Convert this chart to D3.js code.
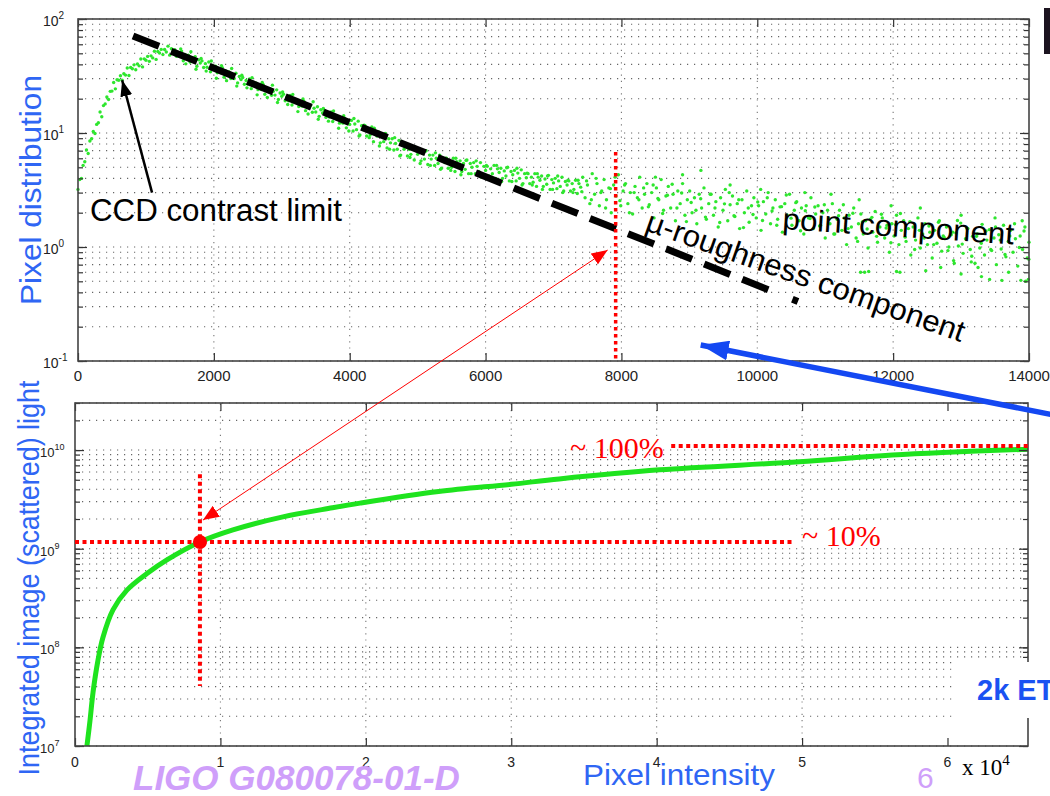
<!DOCTYPE html>
<html>
<head>
<meta charset="utf-8">
<script src="https://cdnjs.cloudflare.com/ajax/libs/d3/7.8.5/d3.min.js"></script>
<style>
  body { margin: 0; background: #fff; }
  svg { display: block; font-family: Arial, "Liberation Sans", sans-serif; }
</style>
</head>
<body>
<svg id="grafico" width="1050" height="796"></svg>
<script>
// ---------------- dados ----------------

// distribuição de pixels (gráfico superior): parte densa, 0 a 7400
const faixaDensa = [
  [0,3.2],[25,3.9],[50,4.0],[75,5.2],[100,5.6],[125,7.1],[150,6.6],[175,8.5],[200,8.9],[225,10.3],
  [250,9.9],[275,11.9],[300,12.3],[325,15.3],[350,13.9],[375,17.4],[400,18.0],[425,20.7],[450,19.7],[475,23.2],
  [500,23.3],[525,27.7],[550,24.4],[575,29.3],[600,29.0],[625,31.8],[650,29.1],[675,33.1],[700,32.2],[725,37.2],
  [750,31.9],[775,37.6],[800,36.6],[825,39.6],[850,35.9],[875,40.3],[900,38.8],[925,44.6],[950,38.0],[975,44.7],
  [1000,43.5],[1025,47.0],[1050,42.5],[1075,47.5],[1100,45.6],[1125,52.1],[1150,44.2],[1175,51.9],[1200,50.3],[1225,54.1],
  [1250,48.7],[1275,54.0],[1300,51.4],[1325,57.8],[1350,48.2],[1375,54.9],[1400,51.5],[1425,53.8],[1450,47.1],[1475,50.9],
  [1500,47.2],[1525,52.3],[1550,43.0],[1575,48.9],[1600,46.0],[1625,48.1],[1650,42.0],[1675,45.4],[1700,42.2],[1725,46.8],
  [1750,38.5],[1775,43.8],[1800,41.1],[1825,42.9],[1850,37.6],[1875,40.6],[1900,37.7],[1925,41.9],[1950,34.4],[1975,39.2],
  [2000,36.8],[2025,38.5],[2050,33.7],[2075,36.4],[2100,33.8],[2125,37.4],[2150,30.8],[2175,35.1],[2200,32.9],[2225,34.3],
  [2250,30.0],[2275,32.4],[2300,30.1],[2325,33.4],[2350,27.5],[2375,31.3],[2400,29.4],[2425,30.7],[2450,26.8],[2475,28.9],
  [2500,26.9],[2525,29.8],[2550,24.5],[2575,27.9],[2600,26.2],[2625,27.3],[2650,24.0],[2675,25.9],[2700,24.1],[2725,26.6],
  [2750,21.9],[2775,24.9],[2800,23.4],[2825,24.5],[2850,21.4],[2875,23.2],[2900,21.5],[2925,23.9],[2950,19.7],[2975,22.4],
  [3000,21.0],[3025,21.9],[3050,19.2],[3075,20.7],[3100,19.2],[3125,21.3],[3150,17.6],[3175,20.0],[3200,18.7],[3225,19.5],
  [3250,17.1],[3275,18.4],[3300,17.2],[3325,19.0],[3350,15.7],[3375,17.7],[3400,16.7],[3425,17.5],[3450,15.2],[3475,16.5],
  [3500,15.3],[3525,17.0],[3550,14.0],[3575,16.0],[3600,15.0],[3625,15.7],[3650,13.7],[3675,14.8],[3700,13.8],[3725,15.3],
  [3750,12.6],[3775,14.3],[3800,13.4],[3825,14.0],[3850,12.2],[3875,13.2],[3900,12.2],[3925,13.5],[3950,11.1],[3975,12.7],
  [4000,11.9],[4025,12.9],[4050,10.4],[4075,12.0],[4100,10.7],[4125,12.7],[4150,9.6],[4175,11.6],[4200,10.7],[4225,11.6],
  [4250,9.4],[4275,10.7],[4300,9.6],[4325,11.3],[4350,8.4],[4375,10.2],[4400,9.4],[4425,10.2],[4450,8.2],[4475,9.4],
  [4500,8.4],[4525,9.9],[4550,7.4],[4575,8.9],[4600,8.2],[4625,8.9],[4650,7.1],[4675,8.1],[4700,7.2],[4725,8.6],
  [4750,6.4],[4775,7.8],[4800,7.2],[4825,7.8],[4850,6.3],[4875,7.2],[4900,6.5],[4925,7.6],[4950,5.8],[4975,7.0],
  [5000,6.5],[5025,7.0],[5050,5.7],[5075,6.6],[5100,5.9],[5125,7.0],[5150,5.3],[5175,6.4],[5200,5.9],[5225,6.4],
  [5250,5.2],[5275,6.0],[5300,5.4],[5325,6.4],[5350,4.9],[5375,5.9],[5400,5.5],[5425,6.0],[5450,4.9],[5475,5.6],
  [5500,5.0],[5525,6.0],[5550,4.6],[5575,5.6],[5600,5.2],[5625,5.7],[5650,4.6],[5675,5.4],[5700,4.8],[5725,5.8],
  [5750,4.4],[5775,5.4],[5800,5.0],[5825,5.5],[5850,4.4],[5875,5.1],[5900,4.6],[5925,5.5],[5950,4.15],[5975,5.1],
  [6000,4.7],[6025,5.1],[6050,4.2],[6075,4.85],[6100,4.4],[6125,5.2],[6150,4.0],[6175,4.85],[6200,4.5],[6225,4.9],
  [6250,4.0],[6275,4.65],[6300,4.2],[6325,5.0],[6350,3.8],[6375,4.6],[6400,4.3],[6425,4.7],[6450,3.8],[6475,4.45],
  [6500,4.0],[6525,4.75],[6550,3.6],[6575,4.4],[6600,4.05],[6625,4.4],[6650,3.6],[6675,4.1],[6700,3.7],[6725,4.4],
  [6750,3.4],[6775,4.1],[6800,3.85],[6825,4.2],[6850,3.4],[6875,3.95],[6900,3.55],[6925,4.25],[6950,3.2],[6975,3.9],
  [7000,3.65],[7025,4.0],[7050,3.25],[7075,3.8],[7100,3.4],[7125,4.1],[7150,3.1],[7175,3.75],[7200,3.5],[7225,3.8],
  [7250,3.1],[7275,3.6],[7300,3.2],[7325,3.85],[7350,2.95],[7375,3.6],[7400,3.35]
];

// pontos mais afastados do centro da faixa densa
const faixaDensaBorda = [
  [1512,54.7],[1587,40.4],[1662,51.6],[1737,36.2],[1812,45.0],[1887,34.9],[1962,42.8],[2037,30.2],[2112,39.0],[2187,28.8],
  [2262,36.8],[2337,25.8],[2412,32.1],[2487,24.9],[2562,30.6],[2637,21.6],[2712,27.8],[2787,20.5],[2862,26.3],[2937,18.5],
  [3012,22.9],[3087,17.8],[3162,21.8],[3237,15.4],[3312,19.9],[3387,14.7],[3462,18.8],[3537,13.2],[3612,16.4],[3687,12.7],
  [3762,15.6],[3837,11.0],[3912,14.2],[3987,10.4],[4062,13.4],[4137,9.4],[4212,11.7],[4287,9.1],[4362,11.0],[4437,7.7],
  [4512,9.8],[4587,7.2],[4662,9.1],[4737,6.3],[4812,7.9],[4887,6.1],[4962,7.5],[5037,5.4],[5112,6.9],[5187,5.2],
  [5262,6.7],[5337,4.8],[5412,6.0],[5487,4.7],[5562,6.0],[5637,4.3],[5712,5.75],[5787,4.4],[5862,5.7],[5937,4.1],
  [6012,5.2],[6087,4.1],[6162,5.2],[6237,3.75],[6312,4.95],[6387,3.75],[6462,4.9],[6537,3.5],[6612,4.45],[6687,3.5],
  [6762,4.4],[6837,3.2],[6912,4.2],[6987,3.2],[7062,4.2],[7137,3.0],[7212,3.85],[7287,3.0],[7362,3.85]
];

// parte dispersa (componente pontual), 7400 a 14000
const faixaDispersa = [
  [7430,4.1],[7465,2.7],[7500,3.5],[7535,2.4],[7570,4.4],[7605,2.9],[7640,3.6],[7675,2.3],[7710,3.1],[7745,3.9],
  [7780,2.6],[7815,3.3],[7850,2.0],[7885,3.5],[7920,2.8],[7955,4.3],[7990,2.3],[8025,3.1],[8060,3.6],[8095,2.4],
  [8130,3.0],[8165,1.95],[8200,3.4],[8235,2.7],[8270,4.1],[8305,2.2],[8340,2.9],[8375,3.6],[8410,2.35],[8445,3.0],
  [8480,1.8],[8515,3.3],[8550,2.6],[8585,3.9],[8620,2.1],[8655,2.8],[8690,3.4],[8725,2.2],[8760,2.9],[8795,1.7],
  [8830,3.1],[8865,2.4],[8900,3.6],[8935,1.9],[8970,2.6],[9005,3.1],[9040,2.0],[9075,2.7],[9110,1.6],[9145,2.9],
  [9180,2.2],[9215,3.3],[9250,1.75],[9285,2.4],[9320,2.9],[9355,1.9],[9390,2.5],[9425,1.5],[9460,2.7],[9495,2.1],
  [9530,3.2],[9565,1.7],[9600,2.35],[9635,2.8],[9670,1.85],[9705,2.4],[9740,1.45],[9775,2.6],[9810,2.0],[9845,3.1],
  [9880,1.65],[9915,2.3],[9950,2.7],[9985,1.8],[10020,2.3],[10055,1.4],[10090,2.5],[10125,1.95],[10160,3.0],[10195,1.6],
  [10230,2.2],[10265,2.6],[10300,1.75],[10335,2.25],[10370,1.35],[10405,2.4],[10440,1.9],[10475,2.9],[10510,1.55],[10545,2.1],
  [10580,2.5],[10615,1.7],[10650,2.2],[10685,1.3],[10720,2.3],[10755,1.8],[10790,2.7],[10825,1.45],[10860,1.95],[10895,2.3],
  [10930,1.55],[10965,2.0],[11000,1.2],[11035,2.1],[11070,1.6],[11105,2.4],[11140,1.3],[11175,1.75],[11210,2.1],[11245,1.4],
  [11280,1.8],[11315,1.05],[11350,1.9],[11385,1.5],[11420,2.2],[11455,1.2],[11490,1.6],[11525,1.95],[11560,1.3],[11595,1.7],
  [11630,0.98],[11665,1.75],[11700,1.35],[11735,2.05],[11770,1.1],[11805,1.5],[11840,1.8],[11875,1.2],[11910,1.55],[11945,0.9],
  [11980,1.6],[12015,1.25],[12050,1.9],[12085,1.05],[12120,1.4],[12155,1.7],[12190,1.12],[12225,1.45],[12260,0.85],[12295,1.5],
  [12330,1.15],[12365,1.8],[12400,0.98],[12435,1.3],[12470,1.6],[12505,1.05],[12540,1.35],[12575,0.8],[12610,1.4],[12645,1.08],
  [12680,1.7],[12715,0.92],[12750,1.22],[12785,1.5],[12820,1.0],[12855,1.28],[12890,0.76],[12925,1.33],[12960,1.02],[12995,1.62],
  [13030,0.88],[13065,1.18],[13100,1.45],[13135,0.95],[13170,1.24],[13205,0.72],[13240,1.3],[13275,0.98],[13310,1.58],[13345,0.85],
  [13380,1.15],[13415,1.42],[13450,0.93],[13485,1.2],[13520,0.7],[13555,1.28],[13590,0.96],[13625,1.55],[13660,0.82],[13695,1.12],
  [13730,1.4],[13765,0.9],[13800,1.18],[13835,0.68],[13870,1.25],[13905,0.95],[13940,1.5],[13975,0.8],[14000,1.1]
];

// segunda leva de pontos da parte dispersa
const faixaDispersa2 = [
  [7417,3.06],[7487,3.8],[7557,2.6],[7627,4.0],[7697,3.0],[7767,2.2],[7837,3.25],[7907,4.1],[7977,2.55],[8047,3.5],
  [8117,2.0],[8187,3.0],[8257,2.6],[8327,3.3],[8397,2.25],[8467,3.5],[8537,2.67],[8607,1.97],[8677,2.84],[8747,3.55],
  [8817,2.2],[8887,2.98],[8957,1.67],[9027,2.46],[9097,2.1],[9167,2.65],[9237,1.83],[9307,2.9],[9377,2.2],[9447,1.64],
  [9517,2.39],[9587,3.0],[9657,1.88],[9727,2.6],[9797,1.48],[9867,2.2],[9937,1.93],[10007,2.48],[10077,1.71],[10147,2.7],
  [10217,2.07],[10287,1.55],[10357,2.26],[10427,2.86],[10497,1.79],[10567,2.45],[10637,1.39],[10707,2.08],[10777,1.78],[10847,2.24],
  [10917,1.53],[10987,2.35],[11057,1.77],[11127,1.3],[11197,1.88],[11267,2.35],[11337,1.45],[11407,1.98],[11477,1.12],[11547,1.66],
  [11617,1.44],[11687,1.82],[11757,1.24],[11827,1.94],[11897,1.47],[11967,1.09],[12037,1.57],[12107,1.97],[12177,1.22],[12247,1.67],
  [12317,0.95],[12387,1.4],[12457,1.2],[12527,1.53],[12597,1.05],[12667,1.65],[12737,1.25],[12807,0.93],[12877,1.35],[12947,1.71],
  [13017,1.06],[13087,1.46],[13157,0.83],[13227,1.24],[13297,1.08],[13367,1.38],[13437,0.95],[13507,1.5],[13577,1.15],[13647,0.86],
  [13717,1.25],[13787,1.6],[13857,0.99],[13927,1.38],[13997,0.78]
];

// pontos isolados acima e abaixo da faixa
const pontosIsolados = [
  [8500,4.1],[8900,4.3],[9170,4.7],[9600,3.5],[10050,3.2],[10700,3.0],[11085,2.9],[11500,2.6],[11970,2.3],[12400,2.2],
  [13000,1.9],[13500,1.8],[13900,1.7],
  [11520,0.6],[11580,0.6],[11640,0.61],[12050,0.61],[12100,0.6],[12480,0.62],[12700,0.66],[12900,0.72],[13000,0.58],
  [13150,0.74],[13250,0.66],[13300,0.55],[13420,0.52],[13600,0.51],[13700,0.6],[13880,0.51],[13950,0.5],[13990,0.52]
];

// reta da componente de micro-rugosidade (extremos)
const rugosidade = [[810, 71], [10612, 0.33]];

// luz integrada (gráfico inferior)
const luzIntegrada = [
  [820,1e7],[1030,1.8e7],[1240,3.5e7],[1580,7.4e7],[1920,1.26e8],[2610,2.4e8],[3570,3.8e8],[4950,5.6e8],
  [6320,7.7e8],[8590,1.17e9],[10860,1.55e9],[14300,2.1e9],[17700,2.6e9],[19600,2.9e9],[25000,3.8e9],
  [30000,4.5e9],[33300,5.1e9],[40200,6.3e9],[49800,7.6e9],[56200,8.9e9],[65536,1.02e10]
];

// ticks
const ticksSupX = [0, 2000, 4000, 6000, 8000, 10000, 12000, 14000];
const decadasSupY = [-1, 0, 1, 2];
const ticksInfX = [0, 10000, 20000, 30000, 40000, 50000, 60000];
const decadasInfY = [7, 8, 9, 10];

// marcas vermelhas
const pontoDezPorCento = [8590, 1.17e9];
const corteSup = [7915, 6.8];           // x, topo da linha vertical superior
const corteInf = [8590, 5.7e9, 4.06e7]; // x, topo, base da linha vertical inferior
const nivelCem = [41000, 1.1e10];       // início x, nível
const setaVermelha = [[7797, 0.94], [8800, 1.95e9]];

// ---------------- desenho ----------------
const svg = d3.select('#grafico');

const defs = svg.append('defs');
function criaSeta(id, cor, comp, larg) {
  defs.append('marker')
      .attr('id', id)
      .attr('markerUnits', 'userSpaceOnUse')
      .attr('viewBox', `0 0 ${comp} ${larg}`)
      .attr('refX', comp).attr('refY', larg / 2)
      .attr('markerWidth', comp).attr('markerHeight', larg)
      .attr('orient', 'auto-start-reverse')
    .append('path')
      .attr('d', `M0,0 L${comp},${larg / 2} L0,${larg} Z`)
      .attr('fill', cor);
}
criaSeta('seta-preta', '#000', 16, 12);
criaSeta('seta-vermelha', '#ff0000', 16, 13);
criaSeta('seta-azul', '#1448f2', 28, 20);

// escalas
const xSup = d3.scaleLinear().domain([0, 14000]).range([78, 1029]);
const ySup = d3.scaleLog().domain([0.1, 100]).range([361, 19]);
const xInf = d3.scaleLinear().domain([0, 65536]).range([75, 1028]);
const yInf = d3.scaleLog().domain([1e7, 3e10]).range([746, 403]);

// grade pontilhada no estilo do MATLAB
function desenhaGrade(x, y, ticksX) {
  const g = svg.append('g');
  g.selectAll('.gh').data(y.ticks()).join('line')
      .classed('gh', true)
      .attr('x1', x.range()[0]).attr('x2', x.range()[1])
      .attr('y1', d => y(d)).attr('y2', d => y(d))
      .attr('stroke', '#666').attr('stroke-width', 1.1)
      .attr('stroke-dasharray', '1.2,5.8');
  g.selectAll('.gv').data(ticksX.slice(1, -1)).join('line')
      .classed('gv', true)
      .attr('x1', d => x(d)).attr('x2', d => x(d))
      .attr('y1', y.range()[0]).attr('y2', y.range()[1])
      .attr('stroke', '#777').attr('stroke-width', 1.1)
      .attr('stroke-dasharray', '1.2,5');
}

// eixos: moldura, ticks para dentro e rótulos
function desenhaEixos(x, y, ticksX, decadas, rotuloX, xRotY, baseRotX, fonteX, fonteY) {
  const [x0, x1] = x.range();
  const [y0, y1] = y.range();
  const g = svg.append('g');
  g.append('g').attr('transform', `translate(0,${y0})`)
      .call(d3.axisBottom(x).tickValues(ticksX).tickSize(-8).tickFormat(''));
  g.append('g').attr('transform', `translate(0,${y1})`)
      .call(d3.axisTop(x).tickValues(ticksX).tickSize(-8).tickFormat(''));
  g.append('g').attr('transform', `translate(${x0},0)`)
      .call(d3.axisLeft(y).tickValues(y.ticks()).tickSize(-5).tickFormat(''));
  g.append('g').attr('transform', `translate(${x1},0)`)
      .call(d3.axisRight(y).tickValues(y.ticks()).tickSize(-5).tickFormat(''));
  g.append('g').attr('transform', `translate(${x0},0)`)
      .call(d3.axisLeft(y).tickValues(decadas.map(e => Math.pow(10, e))).tickSize(-9).tickFormat(''));
  g.append('g').attr('transform', `translate(${x1},0)`)
      .call(d3.axisRight(y).tickValues(decadas.map(e => Math.pow(10, e))).tickSize(-9).tickFormat(''));
  g.selectAll('.domain').remove();
  g.selectAll('.tick line').attr('stroke', '#333').attr('stroke-width', 1.2);

  g.append('rect')
      .attr('x', x0).attr('y', y1)
      .attr('width', x1 - x0).attr('height', y0 - y1)
      .attr('fill', 'none').attr('stroke', '#444').attr('stroke-width', 1.6);

  // rótulos do eixo x
  g.selectAll('.rx').data(ticksX).join('text')
      .classed('rx', true)
      .attr('x', d => x(d)).attr('y', baseRotX)
      .attr('text-anchor', 'middle')
      .attr('font-size', fonteX).attr('fill', '#222')
      .text(rotuloX);

  // rótulos do eixo y: 10 com expoente
  const r = g.selectAll('.ry').data(decadas).join('text')
      .classed('ry', true)
      .attr('x', xRotY).attr('y', d => y(Math.pow(10, d)) + 7)
      .attr('font-size', fonteY).attr('fill', '#222');
  r.append('tspan').text('10');
  r.append('tspan').attr('dy', -7).attr('font-size', fonteY - 4).text(d => d);
}

desenhaGrade(xSup, ySup, ticksSupX);
desenhaGrade(xInf, yInf, ticksInfX);

// pontos da distribuição
const pontos = faixaDensa.concat(faixaDensaBorda, faixaDispersa, faixaDispersa2, pontosIsolados);
svg.append('g').selectAll('circle').data(pontos).join('circle')
    .attr('cx', d => xSup(d[0])).attr('cy', d => ySup(d[1]))
    .attr('r', 1.7).attr('fill', '#2ee62e');

// reta tracejada da micro-rugosidade, terminando em "traço-ponto"
const tracos = d3.range(16).map(() => '28,13').join(',') + ',28,26,6,100';
svg.append('line')
    .attr('x1', xSup(rugosidade[0][0])).attr('y1', ySup(rugosidade[0][1]))
    .attr('x2', xSup(rugosidade[1][0])).attr('y2', ySup(rugosidade[1][1]))
    .attr('stroke', '#000').attr('stroke-width', 7)
    .attr('stroke-dasharray', tracos);

// curva da luz integrada
const linha = d3.line()
    .x(d => xInf(d[0])).y(d => yInf(d[1]))
    .curve(d3.curveCatmullRom.alpha(0.5));
svg.append('path').datum(luzIntegrada)
    .attr('d', linha)
    .attr('fill', 'none').attr('stroke', '#1ee31e').attr('stroke-width', 5);

desenhaEixos(xSup, ySup, ticksSupX, decadasSupY, d => d, 43, 381, 15, 14);
desenhaEixos(xInf, yInf, ticksInfX, decadasInfY, d => d / 10000, 40, 767, 14, 13);

// linhas vermelhas pontilhadas
const vermelho = '#ff0000';
svg.append('line')
    .attr('x1', xSup(corteSup[0])).attr('x2', xSup(corteSup[0]))
    .attr('y1', ySup(corteSup[1])).attr('y2', ySup(0.1))
    .attr('stroke', vermelho).attr('stroke-width', 3.5).attr('stroke-dasharray', '3.5,3.5');
svg.append('line')
    .attr('x1', xInf(corteInf[0])).attr('x2', xInf(corteInf[0]))
    .attr('y1', yInf(corteInf[1])).attr('y2', yInf(corteInf[2]))
    .attr('stroke', vermelho).attr('stroke-width', 4).attr('stroke-dasharray', '4,3.5');
svg.append('line')
    .attr('x1', xInf(0)).attr('x2', xInf(49500))
    .attr('y1', yInf(pontoDezPorCento[1])).attr('y2', yInf(pontoDezPorCento[1]))
    .attr('stroke', vermelho).attr('stroke-width', 4).attr('stroke-dasharray', '4,3.5');
svg.append('line')
    .attr('x1', xInf(nivelCem[0])).attr('x2', xInf(65536))
    .attr('y1', yInf(nivelCem[1])).attr('y2', yInf(nivelCem[1]))
    .attr('stroke', vermelho).attr('stroke-width', 4).attr('stroke-dasharray', '4,3.5');
svg.append('circle')
    .attr('cx', xInf(pontoDezPorCento[0])).attr('cy', yInf(pontoDezPorCento[1]))
    .attr('r', 7).attr('fill', vermelho);

// seta vermelha fina ligando os dois gráficos
svg.append('line')
    .attr('x1', xSup(setaVermelha[0][0])).attr('y1', ySup(setaVermelha[0][1]))
    .attr('x2', xInf(setaVermelha[1][0])).attr('y2', yInf(setaVermelha[1][1]))
    .attr('stroke', vermelho).attr('stroke-width', 1)
    .attr('marker-start', 'url(#seta-vermelha)')
    .attr('marker-end', 'url(#seta-vermelha)');

// seta preta do limite de contraste
svg.append('line')
    .attr('x1', xSup(1090)).attr('y1', ySup(3.0))
    .attr('x2', xSup(650)).attr('y2', ySup(29))
    .attr('stroke', '#000').attr('stroke-width', 2.5)
    .attr('marker-end', 'url(#seta-preta)');

// seta azul grossa
svg.append('line')
    .attr('x1', xSup(14326)).attr('y1', ySup(0.034))
    .attr('x2', xSup(9167)).attr('y2', ySup(0.138))
    .attr('stroke', '#1448f2').attr('stroke-width', 5.5)
    .attr('marker-end', 'url(#seta-azul)');

// textos das anotações
svg.append('text').attr('x', 90).attr('y', 221)
    .attr('font-size', 31).attr('fill', '#000')
    .attr('textLength', 252).attr('lengthAdjust', 'spacingAndGlyphs')
    .text('CCD contrast limit');
svg.append('text')
    .attr('transform', 'translate(782,229) rotate(3.8)')
    .attr('font-size', 30).attr('fill', '#000')
    .attr('textLength', 232).attr('lengthAdjust', 'spacingAndGlyphs')
    .text('point component');
svg.append('text')
    .attr('transform', 'translate(644,230) rotate(19.5)')
    .attr('font-size', 30).attr('fill', '#000')
    .attr('textLength', 336).attr('lengthAdjust', 'spacingAndGlyphs')
    .text('µ-roughness component');

svg.append('text').attr('x', 570).attr('y', 458)
    .attr('font-family', '"Liberation Serif", "Times New Roman", serif')
    .attr('font-size', 30).attr('fill', vermelho)
    .text('~ 100%');
svg.append('text').attr('x', 802).attr('y', 546)
    .attr('font-family', '"Liberation Serif", "Times New Roman", serif')
    .attr('font-size', 30).attr('fill', vermelho)
    .text('~ 10%');

// caixa "2k ET"
svg.append('rect').attr('x', 957).attr('y', 662).attr('width', 93).attr('height', 56).attr('fill', '#fff');
svg.append('text').attr('x', 977).attr('y', 700)
    .attr('font-size', 29).attr('font-weight', 'bold').attr('fill', '#1a52f2')
    .text('2k ET');

// títulos dos eixos
const azulTitulo = '#2f66f4';
svg.append('text')
    .attr('transform', 'translate(41,190) rotate(-90)')
    .attr('text-anchor', 'middle')
    .attr('font-size', 30).attr('fill', azulTitulo)
    .attr('textLength', 230).attr('lengthAdjust', 'spacingAndGlyphs')
    .text('Pixel distribution');
svg.append('text')
    .attr('transform', 'translate(39,578) rotate(-90)')
    .attr('text-anchor', 'middle')
    .attr('font-size', 29).attr('fill', azulTitulo)
    .attr('textLength', 395).attr('lengthAdjust', 'spacingAndGlyphs')
    .text('Integrated image (scattered) light');
svg.append('text').attr('x', 583).attr('y', 785)
    .attr('font-size', 30).attr('fill', azulTitulo)
    .attr('textLength', 192).attr('lengthAdjust', 'spacingAndGlyphs')
    .text('Pixel intensity');

// multiplicador do eixo x inferior
const mult = svg.append('text').attr('x', 962).attr('y', 775)
    .attr('font-family', '"Liberation Serif", "Times New Roman", serif')
    .attr('font-size', 23).attr('fill', '#000');
mult.append('tspan').text('x 10');
mult.append('tspan').attr('dy', -10).attr('font-size', 15).text('4');

// rodapé do slide
svg.append('text').attr('x', 133).attr('y', 790)
    .attr('font-size', 35).attr('font-weight', 'bold').attr('font-style', 'italic')
    .attr('fill', '#cf9ffa')
    .text('LIGO G080078-01-D');
svg.append('text').attr('x', 917).attr('y', 788)
    .attr('font-size', 30).attr('fill', '#cf9ffa')
    .text('6');

// barra escura no canto superior direito
svg.append('rect').attr('x', 1044).attr('y', 8).attr('width', 6).attr('height', 46).attr('fill', '#1c1420');
</script>
</body>
</html>
